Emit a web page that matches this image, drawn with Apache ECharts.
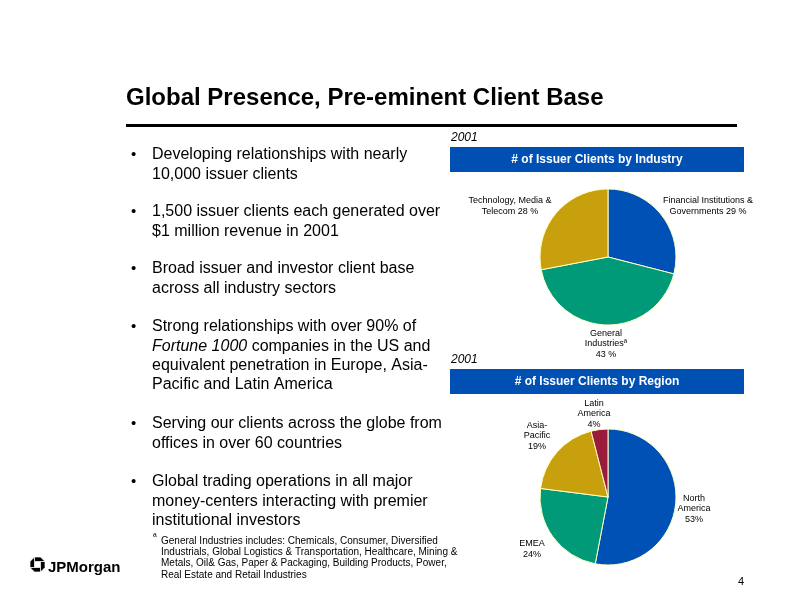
<!DOCTYPE html>
<html>
<head>
<meta charset="utf-8">
<script src="https://cdn.jsdelivr.net/npm/echarts@6/dist/echarts.min.js"></script>
<style>
html, body { margin: 0; padding: 0; background: #fff; }
#main { width: 792px; height: 612px; }
</style>
</head>
<body>
<div id="main"></div>
<script>
// 数据：按行业统计的发行客户占比
var industryCats = ['Financial Institutions &\nGovernments', 'General\nIndustries\u00aa', 'Technology, Media &\nTelecom'];
var industryVals = [29, 43, 28];
var industryBreak = [' ', '\n', ' '];

// 数据：按地区统计的发行客户占比
var regionCats = ['North\nAmerica', 'EMEA', 'Asia-\nPacific', 'Latin\nAmerica'];
var regionVals = [53, 24, 19, 4];

var sliceColors = ['#0051b5', '#009a78', '#c8a00e', '#9a1b3c'];

// 标签中心位置
var industryLabelPos = [[708, 206], [606, 344], [510, 206]];
var regionLabelPos = [[694, 509], [532, 549], [537, 436], [594, 414]];

var bullets = [
    { y: 155, lines: ['Developing relationships with nearly', '10,000 issuer clients'] },
    { y: 212, lines: ['1,500 issuer clients each generated over', '$1 million revenue in 2001'] },
    { y: 269, lines: ['Broad issuer and investor client base', 'across all industry sectors'] },
    { y: 327, lines: ['Strong relationships with over 90% of', '{i|Fortune 1000} companies in the US and', 'equivalent penetration in Europe, Asia-', 'Pacific and Latin America'] },
    { y: 424, lines: ['Serving our clients across the globe from', 'offices in over 60 countries'] },
    { y: 482, lines: ['Global trading operations in all major', 'money-centers interacting with premier', 'institutional investors'] }
];

var footnote = ['General Industries includes: Chemicals, Consumer, Diversified',
    'Industrials, Global Logistics & Transportation, Healthcare, Mining &',
    'Metals, Oil& Gas, Paper & Packaging, Building Products, Power,',
    'Real Estate and Retail Industries'];

var FONT = '"Liberation Sans", Arial, sans-serif';

function buildGraphic() {
    var g = [];
    // 标题和分隔线
    g.push({ type: 'text', x: 126, y: 98, style: { text: 'Global Presence, Pre-eminent Client Base', font: 'bold 24px ' + FONT, fill: '#000', verticalAlign: 'middle' } });
    g.push({ type: 'rect', shape: { x: 126, y: 124, width: 611, height: 3 }, style: { fill: '#000' } });

    // 要点列表
    bullets.forEach(function (b) {
        g.push({ type: 'text', x: 131, y: b.y, style: { text: '\u2022', font: '15px ' + FONT, fill: '#000', verticalAlign: 'middle' } });
        b.lines.forEach(function (ln, i) {
            g.push({ type: 'text', x: 152, y: b.y + i * 19.3, style: { text: ln, font: '16px ' + FONT, fill: '#000', verticalAlign: 'middle',
                rich: { i: { fontStyle: 'italic', fontSize: 16, fontFamily: FONT } } } });
        });
    });

    // 两个图表的小标题
    [[138, 147, '# of Issuer Clients by Industry'], [360, 369, '# of Issuer Clients by Region']].forEach(function (h) {
        g.push({ type: 'text', x: 451, y: h[0], style: { text: '2001', font: 'italic 12px ' + FONT, fill: '#000', verticalAlign: 'middle' } });
        g.push({ type: 'rect', shape: { x: 450, y: h[1], width: 294, height: 25 }, style: { fill: '#0050b4' } });
        g.push({ type: 'text', x: 597, y: h[1] + 12.5, style: { text: h[2], font: 'bold 12px ' + FONT, fill: '#fff', align: 'center', verticalAlign: 'middle' } });
    });

    // 脚注
    g.push({ type: 'text', x: 153, y: 537, style: { text: '\u00aa', font: '10px ' + FONT, fill: '#000', verticalAlign: 'middle' } });
    footnote.forEach(function (ln, i) {
        g.push({ type: 'text', x: 161, y: 541 + i * 11.3, style: { text: ln, font: '10px ' + FONT, fill: '#000', verticalAlign: 'middle' } });
    });

    // JPMorgan 标志（八角形四片）
    var pieces = [];
    for (var k = 0; k < 4; k++) {
        pieces.push({ type: 'polygon', rotation: -k * Math.PI / 2, originX: 7.5, originY: 7.5,
            shape: { points: [[4.5, 0], [10.5, 0], [15, 4.5], [4.5, 4.5]] },
            style: { fill: '#000', stroke: '#fff', lineWidth: 0.7 } });
    }
    g.push({ type: 'group', x: 30, y: 557, children: pieces });
    g.push({ type: 'text', x: 48, y: 568, style: { text: 'JPMorgan', font: 'bold 15px ' + FONT, fill: '#000', verticalAlign: 'middle' } });

    // 页码
    g.push({ type: 'text', x: 738, y: 582, style: { text: '4', font: '11px ' + FONT, fill: '#000', verticalAlign: 'middle' } });
    return g;
}

function pieSeries(cats, vals, center, posList, sep, pct) {
    return {
        type: 'pie',
        center: center,
        radius: 68,
        startAngle: 90,
        clockwise: true,
        silent: true,
        itemStyle: { borderColor: '#ffffc0', borderWidth: 1 },
        label: {
            show: true,
            position: 'outside',
            overflow: 'none',
            formatter: function (p) { return p.name + sep[p.dataIndex] + p.value + pct; },
            fontFamily: FONT,
            fontSize: 9,
            lineHeight: 10.5,
            color: '#000',
            align: 'center'
        },
        labelLine: { show: false },
        labelLayout: function (p) {
            return { x: posList[p.dataIndex][0], y: posList[p.dataIndex][1], align: 'center', verticalAlign: 'middle' };
        },
        data: cats.map(function (c, i) {
            return { name: c, value: vals[i], itemStyle: { color: sliceColors[i] } };
        })
    };
}

var myChart = echarts.init(document.getElementById('main'));
myChart.setOption({
    animation: false,
    graphic: buildGraphic(),
    series: [
        pieSeries(industryCats, industryVals, [608, 257], industryLabelPos, industryBreak, ' %'),
        pieSeries(regionCats, regionVals, [608, 497], regionLabelPos, ['\n', '\n', '\n', '\n'], '%')
    ]
});
</script>
</body>
</html>
